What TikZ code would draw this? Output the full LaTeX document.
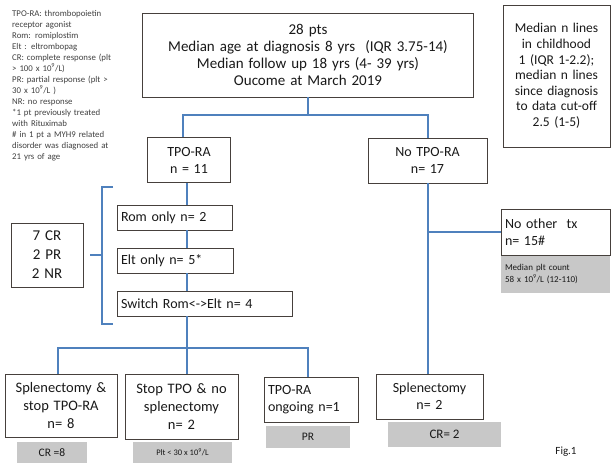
\documentclass[tikz,border=0pt]{standalone}
\usepackage{fontspec}
\setmainfont{Carlito}
\definecolor{linkblue}{RGB}{79,129,189}
\definecolor{boxline}{RGB}{70,64,60}
\definecolor{note}{RGB}{200,200,200}
\definecolor{txt}{RGB}{25,25,25}
\begin{document}
\begin{tikzpicture}
  [x=1pt,y=-1pt,
   every node/.style={text=txt,font=\fontsize{14}{17}\selectfont},
   box/.style={draw=boxline,line width=0.9pt,fill=white,inner xsep=4pt,inner ysep=0pt,align=center},
   shade/.style={fill=note,inner sep=0pt,align=center},
   link/.style={draw=linkblue,line width=1.8pt}]
  \useasboundingbox (0,0) rectangle (612,463);

  \node (legend)[anchor=north west,inner sep=0,text width=108,align=left,
    text=black!75,font=\fontsize{8.8}{11}\selectfont] at (12,10)
    {TPO-RA: thrombopoietin\\ receptor agonist\\ Rom: romiplostim\\ Elt : eltrombopag\\
     CR: complete response (plt\\ > 100 x 10\textsuperscript{9}/L)\\
     PR: partial response (plt >\\ 30 x 10\textsuperscript{9}/L )\\ NR: no response\\
     {*}1 pt previously treated\\ with Rituximab\\ \# in 1 pt a MYH9 related\\
     disorder was diagnosed at\\ 21 yrs of age};

  \node (top)[box,text width=323,minimum height=84,font=\fontsize{15}{17}\selectfont] at (308,55)
    {28 pts\\ Median age at diagnosis 8 yrs~ (IQR 3.75-14)\\ Median follow up 18 yrs (4- 39 yrs)\\ Oucome at March 2019};
  \node (lines)[box,text width=99,minimum height=142,font=\fontsize{13.5}{15.6}\selectfont] at (556.5,76)
    {Median n lines\\ in childhood\\ 1 (IQR 1-2.2);\\ median n lines\\ since diagnosis\\ to data cut-off\\ 2.5 (1-5)};

  \node (tpo)[box,text width=75,minimum height=45] at (189,160) {TPO-RA\\ n = 11};
  \node (notpo)[box,text width=111,minimum height=45] at (427.5,160.5) {No TPO-RA\\ n= 17};

  \node (rom)[box,text width=107,minimum height=25,align=left] at (174.5,217.5) {Rom only n= 2};
  \node (elt)[box,text width=108,minimum height=25,align=left] at (175,260.5) {Elt only n= 5*};
  \node (sw)[box,text width=167,minimum height=25,align=left] at (204.5,303.5) {Switch Rom<->Elt n= 4};
  \node (resp)[box,text width=64,minimum height=64,font=\fontsize{15}{19}\selectfont] at (47,255) {7 CR\\ 2 PR\\ 2 NR};

  \node (notx)[box,text width=101,minimum height=46,align=left] at (555.5,232) {No other~ tx\\ n= 15\#};
  \node (medplt)[shade,text width=101,minimum height=37,align=left,inner xsep=4pt,
    font=\fontsize{9}{12}\selectfont] at (555.5,274) {Median plt count\\ 58 x 10\textsuperscript{9}/L (12-110)};

  \node (splst)[box,text width=104,minimum height=63,font=\fontsize{14.5}{18}\selectfont] at (61,405.5) {Splenectomy \&\\ stop TPO-RA\\ n= 8};
  \node (cr8)[shade,minimum width=70,minimum height=21,font=\fontsize{11.5}{13}\selectfont] at (52,452.5) {CR =8};
  \node (stop)[box,text width=105,minimum height=65,font=\fontsize{14.5}{18}\selectfont] at (181.5,406.5) {Stop TPO \& no\\ splenectomy\\ n= 2};
  \node (plt)[shade,minimum width=99,minimum height=21,font=\fontsize{8.5}{10}\selectfont] at (182.5,452.5) {Plt < 30 x 10\textsuperscript{9}/L};
  \node (ongo)[box,text width=86,minimum height=45,align=left] at (311,399.5) {TPO-RA\\ ongoing n=1};
  \node (pr)[shade,minimum width=84,minimum height=22,font=\fontsize{11.5}{13}\selectfont] at (308,437) {PR};
  \node (splr)[box,text width=99,minimum height=45] at (429.5,396.5) {Splenectomy\\ n= 2};
  \node (cr2)[shade,minimum width=113,minimum height=25,font=\fontsize{13}{15}\selectfont] at (444.5,434.5) {CR= 2};
  \node (fig)[font=\fontsize{11}{13}\selectfont] at (566,452) {Fig.1};

  % junctions
  \coordinate (jm) at (308,115);
  \coordinate (jl) at (183,115);
  \coordinate (jr) at (428,115);
  \coordinate (tv) at (187,348);
  \coordinate (bl) at (58,348);
  \coordinate (br) at (308,348);
  \coordinate (nb) at (428,232);

  \draw[link] (top.south -| jm) -- (jm);
  \draw[link] (tpo.north -| jl) -- (jl) -- (jr) -- (notpo.north -| jr);
  \draw[link] (tpo.south -| tv) -- (rom.north -| tv);
  \draw[link] (rom.south -| tv) -- (elt.north -| tv);
  \draw[link] (elt.south -| tv) -- (sw.north -| tv);
  \draw[link] (sw.south -| tv) -- (tv) -- (stop.north -| tv);
  \draw[link] (splst.north -| bl) -- (bl) -- (br) -- (ongo.north -| br);
  \draw[link] (notpo.south -| jr) -- (splr.north -| jr);
  \draw[link] (nb) -- (notx.west);

  % bracket round the three TPO-RA lines
  \coordinate (kt) at (113,187);
  \coordinate (kb) at (113,324);
  \draw[link] (kt) -- (102,187) -- (102,324) -- (kb);
  \draw[link] (102,255) -- (resp.east -| 90,0);
\end{tikzpicture}
\end{document}
